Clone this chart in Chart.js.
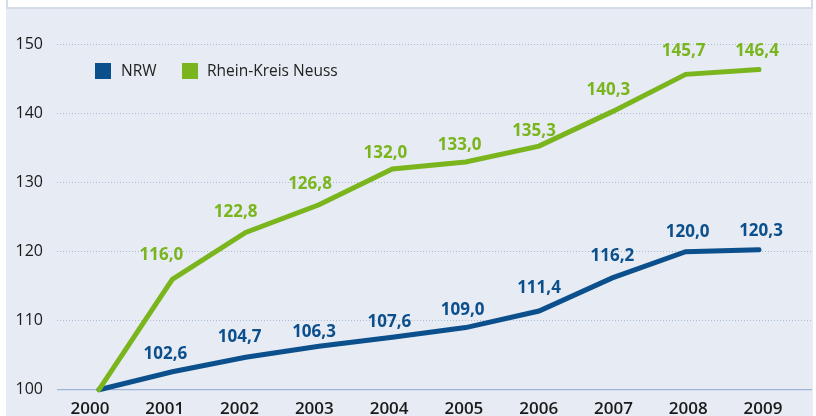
<!DOCTYPE html>
<html><head><meta charset="utf-8">
<script src="https://cdn.jsdelivr.net/npm/chart.js@4/dist/chart.umd.min.js"></script>
<style>html,body{margin:0;padding:0;background:#fff}#wrap{width:816px;height:416px;position:relative}</style>
</head><body><div id="wrap"><canvas id="c" width="816" height="416"></canvas></div>
<script>
// ---- data ----
const categories = ['2000','2001','2002','2003','2004','2005','2006','2007','2008','2009'];
const nrwValues = [100, 102.6, 104.7, 106.3, 107.6, 109.0, 111.4, 116.2, 120.0, 120.3];
const rknValues = [100, 116.0, 122.8, 126.8, 132.0, 133.0, 135.3, 140.3, 145.7, 146.4];
const yTickValues = [100, 110, 120, 130, 140, 150];
const seriesNames = ['NRW', 'Rhein-Kreis Neuss'];

// ---- style ----
const NRW_COLOR = '#0b4f8c';
const RKN_COLOR = '#7ab51d';
const FONT = '"Open Sans", "DejaVu Sans", sans-serif';
// label nudges (pixels) relative to each point
const nrwLabelShift = [null,[-7,-18],[-6,-20],[-5,-14],[-3,-15],[-3,-17],[0,-23],[0,-22],[2,-20],[2,-18]];
const rknLabelShift = [null,[-11,-24],[-10,-20],[-9,-20.5],[-7,-16],[-6,-17],[-5,-15],[-4,-21],[-2,-23],[-2,-18]];

const years = categories.map(Number);
const fmt = v => v.toFixed(1).replace('.', ',');

const bgPlugin = {
  id: 'bg',
  beforeDraw(chart) {
    const c = chart.ctx;
    c.save();
    c.fillStyle = '#ffffff';
    c.fillRect(0, 0, 816, 416);
    c.fillStyle = '#e7ebf3';
    c.fillRect(6, 9, 807, 407);
    c.fillStyle = '#ffffff';
    c.fillRect(7, 0, 805, 8);
    c.strokeStyle = '#d3dce8';
    c.lineWidth = 2;
    c.strokeRect(7, -5, 805, 13);
    c.restore();
  },
  beforeDatasetsDraw(chart) {
    const c = chart.ctx, a = chart.chartArea, y = chart.scales.y.getPixelForValue(yTickValues[0]);
    c.save();
    c.strokeStyle = '#9db6d9';
    c.lineWidth = 1.3;
    c.beginPath();
    c.moveTo(a.left, y);
    c.lineTo(a.right, y);
    c.stroke();
    c.restore();
  }
};

const labelPlugin = {
  id: 'vals',
  afterDatasetsDraw(chart) {
    const c = chart.ctx;
    c.save();
    c.font = 'bold 17px ' + FONT;
    c.textAlign = 'center';
    c.textBaseline = 'middle';
    chart.data.datasets.forEach((ds, i) => {
      const meta = chart.getDatasetMeta(i);
      const shifts = ds.labelShift;
      c.fillStyle = ds.borderColor;
      meta.data.forEach((pt, j) => {
        if (!shifts[j]) return;
        c.fillText(fmt(ds.data[j].y), pt.x + shifts[j][0], pt.y + shifts[j][1]);
      });
    });
    c.restore();
  }
};

const legendPlugin = {
  id: 'leg',
  afterDraw(chart) {
    const c = chart.ctx;
    const ds = chart.data.datasets;
    const items = [[95, 121, ds[0]], [182, 207, ds[1]]];
    c.save();
    c.font = '15.5px ' + FONT;
    c.textBaseline = 'middle';
    c.textAlign = 'left';
    items.forEach(([bx, tx, d]) => {
      c.fillStyle = d.borderColor;
      c.fillRect(bx, 63, 16, 16);
      c.fillStyle = '#222222';
      c.fillText(d.label, tx, 72);
    });
    c.restore();
  }
};

new Chart(document.getElementById('c'), {
  type: 'line',
  data: {
    datasets: [
      {
        label: seriesNames[0],
        data: years.map((x, i) => ({x, y: nrwValues[i]})),
        xAxisID: 'x',
        borderColor: NRW_COLOR,
        borderWidth: 5,
        borderCapStyle: 'round',
        borderJoinStyle: 'miter',
        pointRadius: 0,
        tension: 0,
        clip: false,
        order: 1,
        labelShift: nrwLabelShift
      },
      {
        label: seriesNames[1],
        data: years.map((x, i) => ({x, y: rknValues[i]})),
        xAxisID: 'x',
        borderColor: RKN_COLOR,
        borderWidth: 5,
        borderCapStyle: 'round',
        borderJoinStyle: 'miter',
        pointRadius: 0,
        tension: 0,
        clip: false,
        order: 0,
        labelShift: rknLabelShift
      }
    ]
  },
  options: {
    responsive: false,
    animation: false,
    devicePixelRatio: 1,
    layout: { padding: { top: 44.7, right: 4, bottom: 0, left: 0 } },
    plugins: { legend: { display: false }, tooltip: { enabled: false } },
    scales: {
      x: { type: 'linear', display: false, min: 1999.4273, max: 2009.7228 },
      xl: {
        type: 'linear', position: 'bottom', min: 1999.5587, max: 2009.6553,
        afterBuildTicks: s => { s.ticks = years.map(v => ({value: v})); },
        afterFit: s => { s.height = 26.3; },
        grid: { display: false, drawTicks: false },
        border: { display: false },
        ticks: {
          autoSkip: false, maxRotation: 0, padding: 9,
          color: '#1a1a1a',
          font: { family: FONT, size: 17, weight: '600' },
          callback: v => categories[years.indexOf(v)]
        }
      },
      y: {
        type: 'linear', min: 100, max: 150,
        afterBuildTicks: s => { s.ticks = yTickValues.map(v => ({value: v})); },
        afterFit: s => { s.width = 57; },
        grid: {
          drawTicks: false,
          lineWidth: 1,
          color: ctx => ctx.tick && ctx.tick.value === yTickValues[0] ? 'rgba(0,0,0,0)' : '#a9bcd6'
        },
        border: { display: false, dash: [1, 2] },
        ticks: {
          padding: 14,
          color: '#1a1a1a',
          font: { family: FONT, size: 16 },
          callback: v => String(v)
        }
      }
    }
  },
  plugins: [bgPlugin, labelPlugin, legendPlugin]
});
</script>
</body></html>
